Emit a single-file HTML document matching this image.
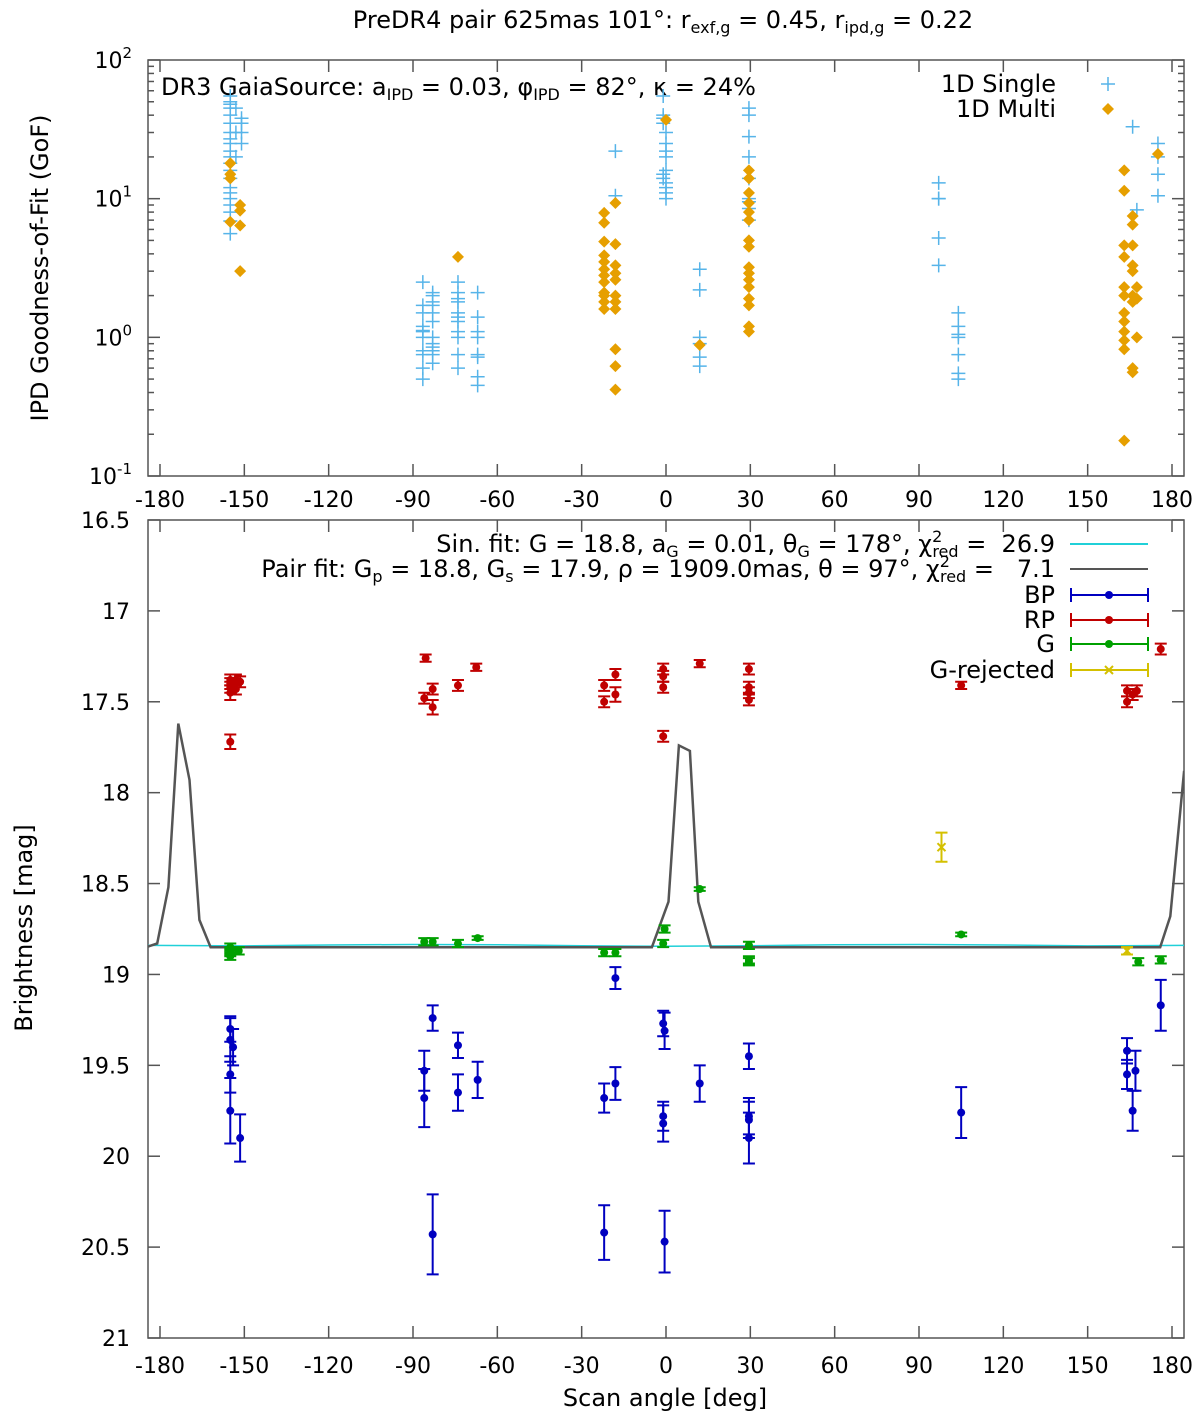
<!DOCTYPE html>
<html><head><meta charset="utf-8">
<style>
body{margin:0;background:#fff;}
svg{display:block;font-family:"DejaVu Sans","Liberation Sans",sans-serif;}
text{fill:#000;white-space:pre;}
</style></head>
<body>
<svg id="c" width="1200" height="1425" viewBox="0 0 1200 1425" xml:space="preserve">
<text x="663" y="28" font-size="24" text-anchor="middle">PreDR4 pair 625mas 101°: r<tspan font-size="16" dy="5">exf,g</tspan><tspan dy="-5"> = 0.45, r</tspan><tspan font-size="16" dy="5">ipd,g</tspan><tspan dy="-5"> = 0.22</tspan></text>
<text x="161" y="95" font-size="24">DR3 GaiaSource: a<tspan font-size="16" dy="5">IPD</tspan><tspan dy="-5"> = 0.03, φ</tspan><tspan font-size="16" dy="5">IPD</tspan><tspan dy="-5"> = 82°, κ = 24%</tspan></text>
<text x="1056" y="92" font-size="24" text-anchor="end">1D Single</text>
<text x="1056" y="117" font-size="24" text-anchor="end">1D Multi</text>
<text x="1055" y="552" font-size="24" text-anchor="end">Sin. fit: G = 18.8, a<tspan font-size="16" dy="5">G</tspan><tspan dy="-5"> = 0.01, θ</tspan><tspan font-size="16" dy="5">G</tspan><tspan dy="-5"> = 178°, χ</tspan><tspan font-size="16" dy="-10">2</tspan><tspan font-size="16" dx="-10" dy="15">red</tspan><tspan dy="-5"> =  26.9</tspan></text>
<text x="1055" y="577" font-size="24" text-anchor="end">Pair fit: G<tspan font-size="16" dy="5">p</tspan><tspan dy="-5"> = 18.8, G</tspan><tspan font-size="16" dy="5">s</tspan><tspan dy="-5"> = 17.9, ρ = 1909.0mas, θ = 97°, χ</tspan><tspan font-size="16" dy="-10">2</tspan><tspan font-size="16" dx="-10" dy="15">red</tspan><tspan dy="-5"> =   7.1</tspan></text>
<text x="1055" y="603" font-size="24" text-anchor="end">BP</text>
<text x="1055" y="628" font-size="24" text-anchor="end">RP</text>
<text x="1055" y="652" font-size="24" text-anchor="end">G</text>
<text x="1055" y="678" font-size="24" text-anchor="end">G-rejected</text>
<text x="665" y="1406" font-size="24" text-anchor="middle">Scan angle [deg]</text>
<text transform="translate(48,268) rotate(-90)" font-size="24" text-anchor="middle">IPD Goodness-of-Fit (GoF)</text>
<text transform="translate(32,928) rotate(-90)" font-size="24" text-anchor="middle">Brightness [mag]</text>
</svg>
<script>
// ---- data ----
const xTicks=[-180,-150,-120,-90,-60,-30,0,30,60,90,120,150,180];
const magTicks=[16.5,17,17.5,18,18.5,19,19.5,20,20.5,21];
const magTickLabels=["16.5","17","17.5","18","18.5","19","19.5","20","20.5","21"];
const gofExp=[2,1,0,-1];
const singleAngle=[-155,-155,-155,-155,-155,-155,-155,-155,-155,-155,-155,-155,-155,-155,-155,-155,-155,-155,-155,-155,-155,-153,-153,-153,-151,-151,-151,-151,
-86.5,-86.5,-86.5,-86.5,-86.5,-86.5,-86.5,-86.5,-86.5,-86.5,-86.5,
-83,-83,-83,-83,-83,-83,-83,-83,-83,-83,-83,-83,
-74,-74,-74,-74,-74,-74,-74,-74,-74,-74,-74,
-67,-67,-67,-67,-67,-67,-67,-67,
-18,-18,-1,-1,-1,-1,0,0,0,0,0,-1,-1,0,0,0,0,
12,12,12,12,12,12,
29.5,29.5,29.5,29.5,29.5,29.5,29.5,29.5,29.5,
97,97,97,97,97,104,104,104,104,104,104,104,166,167.5,175,175,175,175];
const singleGof=[55,50,48,45,40,35,30,27,25,22,20,18,16,14,12,11,10,9,8,6.9,5.6,45,30,20,38,35,30,25,
2.5,1.7,1.5,1.2,1.1,1.12,1.0,0.8,0.75,0.6,0.5,
2.1,2.0,1.8,1.7,1.5,1.3,1.0,0.9,0.85,0.8,0.75,0.65,
2.5,2.1,1.9,1.8,1.5,1.4,1.3,1.1,1.0,0.75,0.6,
2.1,1.4,1.1,1.0,0.75,0.72,0.52,0.45,
22,10.5,55,40,38,35,30,25,22,20,16,15,14,13,12,11,10,
3.1,2.2,1.0,0.9,0.72,0.62,
45,40,28,20,14,10,9.5,8.5,7,
13,10,10,5.2,3.3,1.5,1.2,1.05,1.0,0.75,0.55,0.5,33,8.3,25,20,15,10.5];
const multiAngle=[-155,-155,-155,-155,-151.5,-151.5,-151.5,-151.5,-74,
-22,-22,-22,-22,-22,-22,-22,-22,-22,-22,-22,-22,
-18,-18,-18,-18,-18,-18,-18,-18,-18,-18,-18,
0,12,
29.5,29.5,29.5,29.5,29.5,29.5,29.5,29.5,29.5,29.5,29.5,29.5,29.5,29.5,29.5,29.5,
163,163,163,163,163,163,163,163,163,163,163,163,
166,166,166,166,166,166,166,166,166,167.5,167.5,167.5,175];
const multiGof=[18,15,14,6.8,9,8.2,6.4,3.0,3.8,
7.9,6.7,4.9,3.9,3.5,3.1,2.8,2.5,2.1,2.0,1.8,1.6,
9.3,4.7,3.3,2.9,2.6,2.0,1.8,1.6,0.82,0.62,0.42,
37,0.88,
16,14,11,9.3,8,7,5,4.5,3.2,2.9,2.6,2.3,1.9,1.7,1.2,1.1,
16,11.4,4.6,3.8,2.3,2.0,1.5,1.3,1.1,0.95,0.82,0.18,
7.5,6.5,4.6,3.3,3.0,2.0,1.8,0.6,0.56,2.3,1.9,1.0,21];
const rpAngle=[-155,-155,-155,-155,-155,-153,-153,-151.5,-85.5,-86,-83,-83,-74,-67.5,-22,-22,-18,-18,-1,-1,-1,-1,12,29.5,29.5,29.5,29.5,105,164,164,166,167.5,176];
const rpMag=[17.4,17.42,17.38,17.45,17.72,17.43,17.38,17.39,17.26,17.48,17.43,17.53,17.41,17.31,17.41,17.5,17.35,17.46,17.32,17.36,17.42,17.69,17.29,17.32,17.42,17.45,17.49,17.41,17.44,17.5,17.46,17.44,17.21];
const rpErr=[0.03,0.03,0.03,0.04,0.04,0.03,0.03,0.03,0.02,0.03,0.03,0.04,0.03,0.02,0.03,0.03,0.03,0.04,0.03,0.03,0.03,0.03,0.02,0.03,0.03,0.03,0.03,0.02,0.03,0.03,0.03,0.03,0.03];
const gAngle=[-155,-155,-155,-155,-152,-86,-83,-74,-67,-22,-18,-1,-0.5,12,29.5,29.5,29.5,105,168,176];
const gMag=[18.85,18.88,18.9,18.87,18.87,18.82,18.82,18.83,18.8,18.88,18.88,18.83,18.75,18.53,18.84,18.92,18.93,18.78,18.93,18.92];
const gErr=[0.02,0.02,0.02,0.02,0.02,0.02,0.02,0.02,0.01,0.02,0.02,0.02,0.02,0.01,0.02,0.02,0.02,0.01,0.02,0.02];
const grAngle=[98,164];
const grMag=[18.3,18.87];
const grErr=[0.08,0.02];
const bpAngle=[-155,-155,-155,-155,-154,-151.5,-86,-86,-83,-83,-74,-74,-67,-22,-22,-18,-18,-1,-0.5,-1,-1,-0.5,12,29.5,29.5,29.5,29.5,105,164,164,166,167,176];
const bpMag=[19.36,19.55,19.75,19.3,19.4,19.9,19.53,19.68,19.24,20.43,19.39,19.65,19.58,19.68,20.42,19.6,19.02,19.27,19.31,19.78,19.82,20.47,19.6,19.45,19.78,19.8,19.9,19.76,19.55,19.42,19.75,19.53,19.17];
const bpErr=[0.12,0.1,0.18,0.07,0.1,0.13,0.11,0.16,0.07,0.22,0.07,0.1,0.1,0.08,0.15,0.09,0.06,0.07,0.1,0.08,0.1,0.17,0.1,0.07,0.1,0.1,0.14,0.14,0.08,0.07,0.11,0.11,0.14];
const pairAngle=[-185,-181,-177,-173.5,-169.5,-166,-162,-5,0.9,4.6,8.5,11.5,16,175.8,179.4,184.3];
const pairMag=[18.85,18.83,18.52,17.62,17.93,18.7,18.85,18.85,18.6,17.74,17.77,18.6,18.85,18.85,18.68,17.88];
const sinAngle=[-185,-150,-120,-90,-60,-30,0,30,60,90,120,150,185];
const sinMag=[18.84,18.843,18.838,18.835,18.837,18.842,18.845,18.842,18.837,18.835,18.838,18.843,18.84];

// ---- axes ----
const L=148,R=1184,T1=60,B1=476,T2=520,B2=1338;
const X=a=>666+a*(1012/360);
const YG=v=>T1+(2-Math.log10(v))*((B1-T1)/3);
const YM=m=>T2+(m-16.5)*((B2-T2)/4.5);
const svg=document.getElementById('c');
const NS='http://www.w3.org/2000/svg';
function mk(tag,at,parent){const e=document.createElementNS(NS,tag);for(const k in at)e.setAttribute(k,at[k]);(parent||svg).appendChild(e);return e;}
function txt(x,y,s,anchor,size){const t=mk('text',{x:x,y:y,'font-size':size||22,'text-anchor':anchor||'middle'});t.textContent=s;return t;}

const f1=mk('rect',{x:L,y:T1,width:R-L,height:B1-T1,fill:'none',stroke:'#555','stroke-width':1.5});


const f2=mk('rect',{x:L,y:T2,width:R-L,height:B2-T2,fill:'none',stroke:'#555','stroke-width':1.5});



const tk=mk('g',{stroke:'#555','stroke-width':1.5});


const tl=mk('g',{});


xTicks.forEach(a=>{
  const x=X(a);
  [[T1,B1],[T2,B2]].forEach(([t,b])=>{
    mk('line',{x1:x,y1:t,x2:x,y2:t+12},tk);
    mk('line',{x1:x,y1:b,x2:x,y2:b-12},tk);
  });
  const s=String(a);
  let t=txt(x,507,s); tl.appendChild(t);
  t=txt(x,1373,s); tl.appendChild(t);
});
gofExp.forEach(e=>{
  const y=YG(Math.pow(10,e));
  mk('line',{x1:L,y1:y,x2:L+12,y2:y},tk);
  mk('line',{x1:R,y1:y,x2:R-12,y2:y},tk);
  const t=mk('text',{x:132,y:y+8,'font-size':22,'text-anchor':'end'},tl);
  t.textContent='10';
  const s=mk('tspan',{'font-size':15,dy:-10},t); s.textContent=String(e);
  if(e>-1){for(let m=2;m<10;m++){const ym=YG(Math.pow(10,e-1)*m);
    mk('line',{x1:L,y1:ym,x2:L+6,y2:ym},tk);mk('line',{x1:R,y1:ym,x2:R-6,y2:ym},tk);}}
});
magTicks.forEach((m,i)=>{
  const y=YM(m);
  mk('line',{x1:L,y1:y,x2:L+12,y2:y},tk);
  mk('line',{x1:R,y1:y,x2:R-12,y2:y},tk);
  const t=txt(130,y+8,magTickLabels[i],'end'); tl.appendChild(t);
});

// ---- top panel ----
const gs=mk('g',{stroke:'#56b4e9','stroke-width':1.5});


singleAngle.forEach((a,i)=>{const x=X(a),y=YG(singleGof[i]);
  const p=mk('path',{d:`M${x-7},${y}h14M${x},${y-7}v14`},gs);
  
  });
const gm=mk('g',{fill:'#e69f00'});


multiAngle.forEach((a,i)=>{const x=X(a),y=YG(multiGof[i]);
  const p=mk('path',{d:`M${x},${y-6}L${x+6},${y}L${x},${y+6}L${x-6},${y}Z`},gm);
  
  });
const lg1=mk('path',{d:'M1101,84h14M1108,77v14',stroke:'#56b4e9','stroke-width':1.5});


const lg2=mk('path',{d:'M1108,103L1114,109L1108,115L1102,109Z',fill:'#e69f00'});



// ---- bottom panel ----
const clip=mk('clipPath',{id:'cb'});mk('rect',{x:L,y:T2,width:R-L,height:B2-T2},clip);
function line(ang,mag,color,w,name){
  const d=ang.map((a,i)=>(i?'L':'M')+X(a).toFixed(1)+','+YM(mag[i]).toFixed(1)).join('');
  const p=mk('path',{d:d,fill:'none',stroke:color,'stroke-width':w,'clip-path':'url(#cb)'});
  
  
}
line(sinAngle,sinMag,'#20d0d8',1.5,'sin-fit-line');
line(pairAngle,pairMag,'#555',2.5,'pair-fit-line');

function errSeries(ang,mag,err,color,name,cross){
  const g=mk('g',{stroke:color,fill:color,'stroke-width':2});
  
  
  ang.forEach((a,i)=>{const x=X(a),y=YM(mag[i]),y1=YM(mag[i]-err[i]),y2=YM(mag[i]+err[i]);
    const p=mk('path',{d:`M${x},${y1}V${y2}M${x-6},${y1}h12M${x-6},${y2}h12`,fill:'none'},g);
    
    
    if(cross){const c=mk('path',{d:`M${x-4},${y-4}l8,8M${x+4},${y-4}l-8,8`,fill:'none'},g);
      
      }
    else{const c=mk('circle',{cx:x,cy:y,r:4,stroke:'none'},g);
      
      }
  });
}
errSeries(rpAngle,rpMag,rpErr,'#c00000','rp-series');
errSeries(gAngle,gMag,gErr,'#00a000','g-series');
errSeries(grAngle,grMag,grErr,'#d4c000','g-rejected-series',true);
errSeries(bpAngle,bpMag,bpErr,'#0000c0','bp-series');

function legSample(y,color,kind,name){
  const g=mk('g',{stroke:color,fill:color,'stroke-width':2});
  
  
  mk('line',{x1:1070,y1:y,x2:1148,y2:y},g);
  if(kind==='line')return;
  mk('path',{d:`M1071,${y-7}v14M1148,${y-7}v14`,fill:'none'},g);
  if(kind==='x')mk('path',{d:`M1105,${y-4}l8,8M1113,${y-4}l-8,8`,fill:'none'},g);
  else mk('circle',{cx:1109,cy:y,r:4,stroke:'none'},g);
}
legSample(544,'#20d0d8','line','legend-sin-fit-sample');
legSample(569,'#555','line','legend-pair-fit-sample');
legSample(595,'#0000c0','dot','legend-bp-sample');
legSample(620,'#c00000','dot','legend-rp-sample');
legSample(644,'#00a000','dot','legend-g-sample');
legSample(670,'#d4c000','x','legend-g-rejected-sample');
</script>
</body></html>
